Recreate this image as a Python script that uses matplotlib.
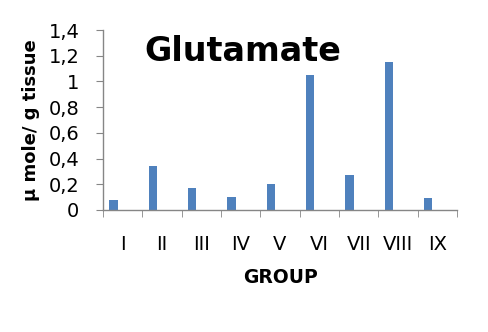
import matplotlib
matplotlib.use("Agg")
import matplotlib.pyplot as plt
import numpy as np

groups = ["I", "II", "III", "IV", "V", "VI", "VII", "VIII", "IX"]
glutamate = [0.08, 0.34, 0.17, 0.10, 0.20, 1.05, 0.27, 1.15, 0.09]
yticks = [0, 0.2, 0.4, 0.6, 0.8, 1.0, 1.2, 1.4]
ytick_labels = ["0", "0,2", "0,4", "0,6", "0,8", "1", "1,2", "1,4"]

plt.rcParams['font.family'] = ['DejaVu Sans']

fig = plt.figure(figsize=(4.89, 3.32), dpi=100)
ax = fig.add_axes([0.2106, 0.3675, 0.724, 0.542])

x = np.arange(len(groups))
ax.bar(x - 0.23, glutamate, width=0.21, color="#4F81BD")

ax.set_xlim(-0.5, len(groups) - 0.5)
ax.set_ylim(0, 1.4)
ax.set_yticks(yticks)
ax.set_yticklabels(ytick_labels, fontsize=14)
ax.set_xticks(x)
ax.set_xticklabels(groups, fontsize=14)
ax.set_xticks(np.arange(len(groups) + 1) - 0.5, minor=True)

for s in ["top", "right"]:
    ax.spines[s].set_visible(False)
for s in ["left", "bottom"]:
    ax.spines[s].set_color("#868686")
    ax.spines[s].set_linewidth(1.0)

ax.tick_params(axis="y", direction="out", length=5, color="#868686", pad=12)
ax.tick_params(axis="x", which="major", length=0, pad=18)
ax.tick_params(axis="x", which="minor", direction="out", length=5, color="#868686")

ax.set_xlabel("GROUP", fontsize=13.5, fontweight="bold", labelpad=10)
ax.set_ylabel("\u03bc mole/ g tissue", fontsize=13, fontweight="bold", labelpad=6)

ax.text(0.395, 0.88, "Glutamate", transform=ax.transAxes, ha="center", va="center",
        fontsize=24, fontweight="bold")

fig.savefig("out.png", dpi=100)
